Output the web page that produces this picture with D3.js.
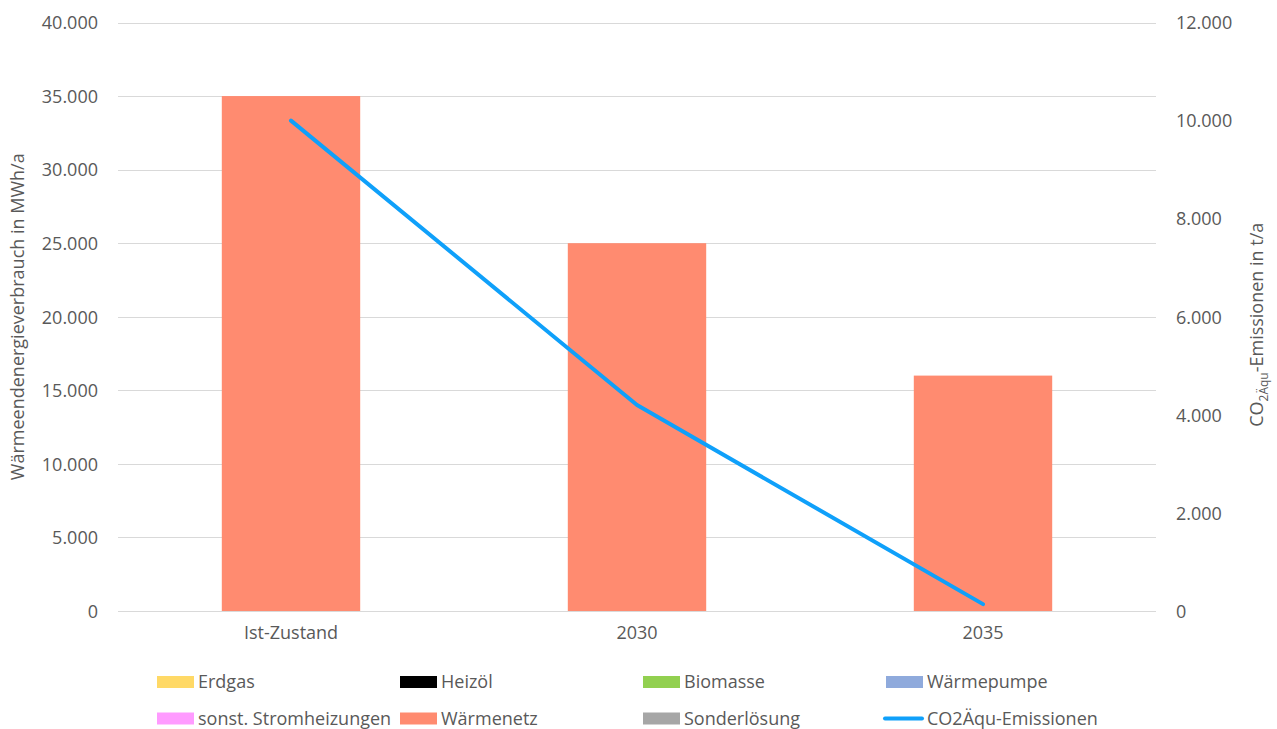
<!DOCTYPE html>
<html>
<head>
<meta charset="utf-8">
<script src="https://cdn.jsdelivr.net/npm/d3@7"></script>
<style>
  html, body { margin: 0; padding: 0; background: #fff; }
  svg { display: block; font-family: "Open Sans", sans-serif; }
</style>
</head>
<body>
<svg id="chart" width="1277" height="729"></svg>
<script>
// Categories and series
const categories = ["Ist-Zustand", "2030", "2035"];
const waermenetz = [35000, 25000, 16000];          // MWh/a
const co2Emissionen = [10000, 4200, 140];         // t/a
const leftTicks = [0, 5000, 10000, 15000, 20000, 25000, 30000, 35000, 40000];
const rightTicks = [0, 2000, 4000, 6000, 8000, 10000, 12000];

const legendItems = [
  { name: "Erdgas", color: "#FFD966", type: "rect" },
  { name: "Heizöl", color: "#000000", type: "rect" },
  { name: "Biomasse", color: "#92D050", type: "rect" },
  { name: "Wärmepumpe", color: "#8FAADC", type: "rect" },
  { name: "sonst. Stromheizungen", color: "#FF9BFF", type: "rect" },
  { name: "Wärmenetz", color: "#FF8B70", type: "rect" },
  { name: "Sonderlösung", color: "#A6A6A6", type: "rect" },
  { name: "CO2Äqu-Emissionen", color: "#0FA0FA", type: "line" }
];

const svg = d3.select("#chart");
const textColor = "#595959";
const fontSize = "18px";
const plot = { left: 118, right: 1156, top: 22.5, bottom: 611 };

const x = d3.scaleBand().domain(categories).range([plot.left, plot.right]).padding(0);
const barW = x.bandwidth() * 0.4;
const yL = d3.scaleLinear().domain([0, 40000]).range([plot.bottom, plot.top]);
const yR = d3.scaleLinear().domain([0, 12000]).range([plot.bottom, plot.top]);
const fmt = v => d3.format(",")(v).replace(/,/g, ".");

// Gridlines
svg.append("g").selectAll("line").data(leftTicks).join("line")
  .attr("x1", plot.left).attr("x2", plot.right)
  .attr("y1", d => Math.round(yL(d)) + 0.5).attr("y2", d => Math.round(yL(d)) + 0.5)
  .attr("stroke", "#D9D9D9").attr("stroke-width", 1);

// Left axis
const axL = svg.append("g").attr("transform", `translate(${plot.left},0)`)
  .call(d3.axisLeft(yL).tickValues(leftTicks).tickFormat(fmt).tickSize(0).tickPadding(20));
axL.select(".domain").remove();
axL.selectAll("text").attr("fill", textColor).style("font-size", fontSize)
  .style("font-family", "'Open Sans', sans-serif").attr("dy", "0.35em");

// Right axis
const axR = svg.append("g").attr("transform", `translate(${plot.right},0)`)
  .call(d3.axisRight(yR).tickValues(rightTicks).tickFormat(fmt).tickSize(0).tickPadding(20));
axR.select(".domain").remove();
axR.selectAll("text").attr("fill", textColor).style("font-size", fontSize)
  .style("font-family", "'Open Sans', sans-serif").attr("dy", "0.35em");

// Bottom axis labels
const axB = svg.append("g").attr("transform", `translate(0,${plot.bottom})`)
  .call(d3.axisBottom(x).tickSize(0).tickPadding(15));
axB.select(".domain").remove();
axB.selectAll("text").attr("fill", textColor).style("font-size", fontSize)
  .style("font-family", "'Open Sans', sans-serif");

// Bars
svg.append("g").selectAll("rect").data(categories).join("rect")
  .attr("x", d => x(d) + (x.bandwidth() - barW) / 2)
  .attr("width", barW)
  .attr("y", (d, i) => yL(waermenetz[i]))
  .attr("height", (d, i) => yL(0) - yL(waermenetz[i]))
  .attr("fill", "#FF8B70");

// CO2 line
const line = d3.line()
  .x((d, i) => x(categories[i]) + x.bandwidth() / 2)
  .y(d => yR(d));
svg.append("path").datum(co2Emissionen)
  .attr("d", line).attr("fill", "none")
  .attr("stroke", "#0FA0FA").attr("stroke-width", 4)
  .attr("stroke-linecap", "round").attr("stroke-linejoin", "round");

// Axis titles
const midY = (plot.top + plot.bottom) / 2;
svg.append("text")
  .attr("transform", `translate(24,${midY}) rotate(-90)`)
  .attr("text-anchor", "middle").attr("fill", textColor).style("font-size", fontSize)
  .text("Wärmeendenergieverbrauch in MWh/a");

const rt = svg.append("text")
  .attr("transform", `translate(1263,${midY + 8}) rotate(-90)`)
  .attr("text-anchor", "middle").attr("fill", textColor).style("font-size", fontSize);
rt.append("tspan").text("CO");
rt.append("tspan").attr("dy", 5).style("font-size", "12px").text("2Äqu");
rt.append("tspan").attr("dy", -5).text("-Emissionen in t/a");

// Legend
const legCols = [157, 400, 643, 886];
const legRows = [682, 718.5];
const leg = svg.append("g");
legendItems.forEach((it, i) => {
  const cx = legCols[i % 4];
  const cy = legRows[Math.floor(i / 4)];
  const g = leg.append("g");
  if (it.type === "rect") {
    g.append("rect").attr("x", cx).attr("y", cy - 6).attr("width", 37).attr("height", 12)
      .attr("fill", it.color);
  } else {
    g.append("line").attr("x1", cx - 1).attr("x2", cx + 36).attr("y1", cy).attr("y2", cy)
      .attr("stroke", it.color).attr("stroke-width", 4).attr("stroke-linecap", "round");
  }
  g.append("text").attr("x", cx + 41).attr("y", cy).attr("dy", "0.35em")
    .attr("fill", textColor).style("font-size", fontSize).text(it.name);
});
</script>
</body>
</html>
